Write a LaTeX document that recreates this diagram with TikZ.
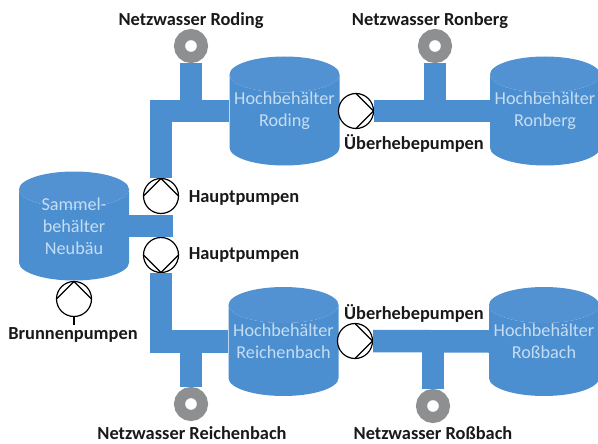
\documentclass[tikz,border=0pt]{standalone}
\usepackage{fontspec}
\setmainfont{Carlito}
\usetikzlibrary{shapes.geometric}
\definecolor{tankblue}{HTML}{4C8FD0}
\definecolor{tanktop}{HTML}{5292D2}
\definecolor{tanktext}{HTML}{C5DDF2}
\definecolor{ringgray}{HTML}{8E8F91}
\tikzset{
  tank/.style={cylinder,shape border rotate=90,aspect=0.4,minimum width=110pt,minimum height=109pt,
    text width=90pt,text height=30pt,text depth=5pt,
    anchor=shape center,inner sep=0pt,cylinder uses custom fill,cylinder body fill=tankblue,cylinder end fill=tanktop},
  tanklbl/.style={text=tanktext,align=center,font=\fontsize{18.2}{22}\selectfont},
  pumpbox/.style={circle,draw,fill=white,line width=1.2pt,minimum size=35pt,inner sep=0pt,
    path picture={\draw[line width=1.2pt] ([shift={(#1+90:17.5pt)}]path picture bounding box.center)
      -- ([shift={(#1:17.5pt)}]path picture bounding box.center)
      -- ([shift={(#1-90:17.5pt)}]path picture bounding box.center);}},
  ring/.style={circle,draw=ringgray,fill=white,line width=11pt,minimum size=23pt,inner sep=0pt},
  pipe/.style={draw=tankblue,line width=22.5pt},
  lbl/.style={font=\fontsize{18.4}{22}\selectfont\bfseries,text=black!90}
}
\begin{document}
\begin{tikzpicture}[x=1pt,y=-1pt]
  \useasboundingbox (0,0) rectangle (598,444);
  % tanks
  \node[tank] (neubau) at (74,226) {};
  \node[tank] (roding) at (284.5,111) {};
  \node[tank] (ronberg) at (545,111) {};
  \node[tank] (reichenbach) at (283.5,341.5) {};
  \node[tank] (rossbach) at (544,341.5) {};
  \node[tanklbl] (txtneubau) at (neubau.shape center) {Sammel-\\behälter\\Neubäu};
  \node[tanklbl] (txtroding) at (roding.shape center) {Hochbehälter\\Roding};
  \node[tanklbl] (txtronberg) at (ronberg.shape center) {Hochbehälter\\Ronberg};
  \node[tanklbl] (txtreichenbach) at (reichenbach.shape center) {Hochbehälter\\Reichenbach};
  \node[tanklbl] (txtrossbach) at (rossbach.shape center) {Hochbehälter\\Roßbach};
  \coordinate (neubauout) at (neubau.shape center -| neubau.east);
  \coordinate (rodingin) at (roding.shape center -| roding.west);
  \coordinate (ronbergin) at (ronberg.shape center -| ronberg.west);
  \coordinate (reichenbachin) at (reichenbach.shape center -| reichenbach.west);
  \coordinate (rossbachin) at (rossbach.shape center -| rossbach.west);
  % pumps
  \node[pumpbox=90] (haupt1) at (161,196) {};
  \node[pumpbox=-90] (haupt2) at (161,255) {};
  \node[pumpbox=0] (ueber1) at (356,111) {};
  \node[pumpbox=0] (ueber2) at (355,341) {};
  \node[pumpbox=90] (brunnen) at (74,299) {};
  \coordinate (brunnenend) at (74,325);
  \draw[line width=1.2pt] (brunnen) -- (brunnenend);
  % rings
  \node[ring] (ringroding) at (191,46) {};
  \node[ring] (ringronberg) at (435,46) {};
  \node[ring] (ringreichenbach) at (191,404) {};
  \node[ring] (ringrossbach) at (433,406) {};
  % pipes
  \coordinate (edge) at (173,226);
  \draw[pipe] (neubauout) -- (edge);
  \draw[pipe] (rodingin) -| (haupt1.north);
  \draw[pipe] (reichenbachin) -| (haupt2.south);
  \draw[pipe] (ueber1.east) -- (ronbergin);
  \draw[pipe] (ueber2.east) -- (rossbachin);
  \draw[pipe] (ringroding.south) -- (ringroding.south |- rodingin);
  \draw[pipe] (ringronberg.south) -- (ringronberg.south |- ronbergin);
  \draw[pipe] (ringreichenbach.north) -- (ringreichenbach.north |- reichenbachin);
  \draw[pipe] (ringrossbach.north) -- (ringrossbach.north |- rossbachin);
  % labels
  \node[lbl] (lblroding) at (191,21) {Netzwasser Roding};
  \node[lbl] (lblronberg) at (430,21) {Netzwasser Ronberg};
  \node[lbl] (lblueber1) at (414,143) {Überhebepumpen};
  \node[lbl] (lblhaupt1) at (244,198) {Hauptpumpen};
  \node[lbl] (lblhaupt2) at (244,255) {Hauptpumpen};
  \node[lbl] (lblueber2) at (414,313) {Überhebepumpen};
  \node[lbl] (lblbrunnen) at (73,335) {Brunnenpumpen};
  \node[lbl] (lblreichenbach) at (192,433) {Netzwasser Reichenbach};
  \node[lbl] (lblrossbach) at (433,433) {Netzwasser Roßbach};
\end{tikzpicture}
\end{document}
